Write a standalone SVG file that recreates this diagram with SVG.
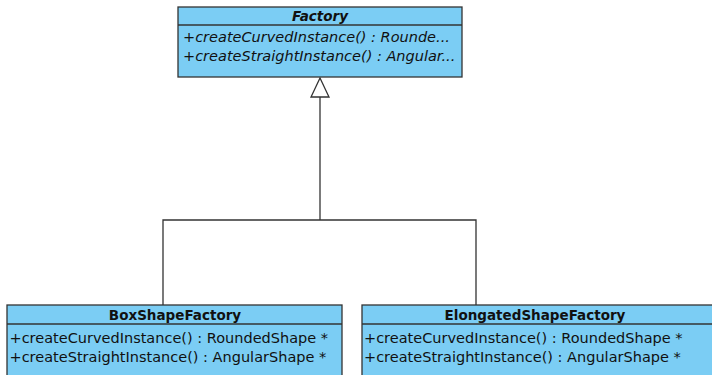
<svg xmlns="http://www.w3.org/2000/svg" width="712" height="375" viewBox="0 0 712 375">
  <defs>
    <style>
      .box { fill: #7bcdf4; stroke: #333333; stroke-width: 1.3; }
      .sep { stroke: #333333; stroke-width: 1.3; }
      .title { font-family: "DejaVu Sans", Verdana, sans-serif; font-size: 13.5px; font-weight: bold; fill: #111111; text-anchor: middle; }
      .op { font-family: "DejaVu Sans", Verdana, sans-serif; font-size: 14.5px; fill: #111111; }
      .abstract { font-style: italic; }
      .edge { fill: none; stroke: #333333; stroke-width: 1.3; }
      .head { fill: #ffffff; stroke: #333333; stroke-width: 1.3; }
    </style>
  </defs>
  <rect width="712" height="375" fill="#ffffff"/>

  <!-- generalization connectors -->
  <g id="connectors">
    <polyline class="edge" points="163,305 163,220 476,220 476,305"/>
    <line class="edge" x1="320" y1="220" x2="320" y2="97"/>
    <polygon class="head" points="320,78 311,97 329,97"/>
  </g>

  <!-- abstract class -->
  <g id="Factory">
    <rect class="box" x="178" y="7" width="284" height="70"/>
    <line class="sep" x1="178" y1="25" x2="462" y2="25"/>
    <text class="title abstract" x="320" y="20.5">Factory</text>
    <text class="op abstract" x="183" y="42">+createCurvedInstance() : Rounde...</text>
    <text class="op abstract" x="183" y="61">+createStraightInstance() : Angular...</text>
  </g>

  <g id="BoxShapeFactory">
    <rect class="box" x="7" y="305" width="335" height="80"/>
    <line class="sep" x1="7" y1="324" x2="342" y2="324"/>
    <text class="title" x="175" y="319.5">BoxShapeFactory</text>
    <text class="op" x="9.5" y="343">+createCurvedInstance() : RoundedShape *</text>
    <text class="op" x="9.5" y="362">+createStraightInstance() : AngularShape *</text>
  </g>

  <g id="ElongatedShapeFactory">
    <rect class="box" x="362" y="305" width="360" height="80"/>
    <line class="sep" x1="362" y1="324" x2="722" y2="324"/>
    <text class="title" x="535" y="319.5">ElongatedShapeFactory</text>
    <text class="op" x="364" y="343">+createCurvedInstance() : RoundedShape *</text>
    <text class="op" x="364" y="362">+createStraightInstance() : AngularShape *</text>
  </g>
</svg>
